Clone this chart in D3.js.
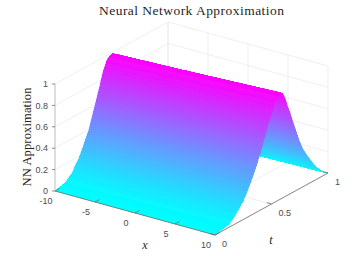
<!DOCTYPE html>
<html>
<head>
<meta charset="utf-8">
<script src="https://cdn.jsdelivr.net/npm/d3@7"></script>
<style>
html, body { margin: 0; padding: 0; background: #fff; overflow: hidden; }
svg { display: block; }
text { font-family: "Liberation Sans", sans-serif; }
.serif { font-family: "Liberation Serif", serif; fill: #262626; }
</style>
</head>
<body>
<div id="chart"></div>
<script>
// tick values
const xTicks = [-10, -5, 0, 5, 10];
const tTicks = [0, 0.5, 1];
const zTicks = [0, 0.2, 0.4, 0.6, 0.8, 1];

// surface read off the picture as height levels, with the t where each
// level is crossed on the x=-10 edge and on the x=10 edge
const zLevels = [0, 0.025, 0.08, 0.17, 0.27, 0.4, 0.52, 0.65, 0.76, 0.87, 0.94, 0.97, 0.99,
    0.97, 0.92, 0.84, 0.76, 0.67, 0.59, 0.51, 0.43, 0.35, 0.28, 0.2, 0.11, 0.05, 0.01, 0];
const tAtLeft = [0, 0.088, 0.148, 0.204, 0.248, 0.30, 0.333, 0.368, 0.398, 0.425, 0.452, 0.469, 0.504,
    0.535, 0.56, 0.585, 0.61, 0.635, 0.655, 0.68, 0.70, 0.73, 0.76, 0.80, 0.85, 0.90, 0.95, 1];
const tAtRight = [0, 0.12, 0.18, 0.25, 0.30, 0.355, 0.398, 0.438, 0.47, 0.51, 0.532, 0.55, 0.585,
    0.60, 0.62, 0.64, 0.664, 0.686, 0.708, 0.73, 0.752, 0.78, 0.81, 0.85, 0.90, 0.945, 0.985, 1];

const width = 364, height = 256;
const bands = 12; // flat colour bands per strip, only for smooth shading

const svg = d3.select('#chart').append('svg')
    .attr('width', width)
    .attr('height', height);
const defs = svg.append('defs');

defs.append('filter').attr('id', 'soft')
    .append('feGaussianBlur').attr('stdDeviation', 0.45);

// each data axis gets a screen x scale and a screen y scale, the picture is a parallel projection
const xToX = d3.scaleLinear().domain([-10, 10]).range([0, 160]);
const xToY = d3.scaleLinear().domain([-10, 10]).range([0, 44]);
const tToX = d3.scaleLinear().domain([0, 1]).range([0, 113]);
const tToY = d3.scaleLinear().domain([0, 1]).range([0, -62]);
const zToY = d3.scaleLinear().domain([0, 1]).range([0, -107]);
const color = d3.scaleLinear().domain([0, 1]).range(['#00ffff', '#ff00ff']);

function project(x, t, z) {
    return [55 + xToX(x) + tToX(t), 191 + xToY(x) + tToY(t) + zToY(z)];
}

const line = d3.line();
const grid = svg.append('g').attr('fill', 'none').attr('stroke', '#ebebeb').attr('stroke-width', 0.8);
const [x0, x1] = xToX.domain();

function gridLine(a, b) {
    grid.append('path').attr('d', line([project(...a), project(...b)]));
}

xTicks.forEach(x => {
    gridLine([x, 0, 0], [x, 1, 0]);
    gridLine([x, 1, 0], [x, 1, 1]);
});
tTicks.forEach(t => {
    gridLine([x0, t, 0], [x1, t, 0]);
    gridLine([x0, t, 0], [x0, t, 1]);
});
zTicks.forEach(z => {
    gridLine([x0, 0, z], [x0, 1, z]);
    gridLine([x0, 1, z], [x1, 1, z]);
});

// surface, painted from the far side of the ridge to the near edge
// crisp edges so the bands do not let the far side show through, the blur softens the outline
const surface = svg.append('g')
    .attr('filter', 'url(#soft)')
    .attr('shape-rendering', 'crispEdges');

function between(p, q, f) {
    return [p[0] + (q[0] - p[0]) * f, p[1] + (q[1] - p[1]) * f];
}

function strip(i) {
    const a = project(x0, tAtLeft[i], zLevels[i]);
    const b = project(x1, tAtRight[i], zLevels[i]);
    const c = project(x1, tAtRight[i + 1], zLevels[i + 1]);
    const d = project(x0, tAtLeft[i + 1], zLevels[i + 1]);
    const zAt = d3.interpolateNumber(zLevels[i], zLevels[i + 1]);

    d3.range(bands - 1, -1, -1).forEach(s => {
        const f0 = s / bands, f1 = (s + 1) / bands;
        const fill = color(zAt((f0 + f1) / 2));
        surface.append('path')
            .attr('d', line([between(a, d, f0), between(b, c, f0), between(b, c, f1), between(a, d, f1)]) + 'Z')
            .attr('fill', fill)
            .attr('stroke', fill)
            .attr('stroke-width', 0.4);
    });
}

d3.range(zLevels.length - 2, -1, -1).forEach(strip);

// axes
const axes = svg.append('g').attr('fill', 'none').attr('stroke', '#6e6e6e').attr('stroke-width', 0.8);
axes.append('path').attr('d', line([project(x0, 0, 0), project(x1, 0, 0)]));
axes.append('path').attr('d', line([project(x1, 0, 0), project(x1, 1, 0)]));
axes.append('path').attr('stroke', '#c4c4c4').attr('stroke-width', 1).attr('d', line([project(x0, 0, 0), project(x0, 0, 1)]));

xTicks.forEach(x => {
    axes.append('path').attr('d', line([project(x, 0, 0), project(x, 0.04, 0)]));
    const p = project(x, 0, 0);
    tickLabel(x, p[0] - 9, p[1] + 10, 'middle');
});
tTicks.forEach(t => {
    axes.append('path').attr('d', line([project(x1, t, 0), project(x1 - 0.6, t, 0)]));
    const p = project(x1, t, 0);
    tickLabel(t, p[0] + 7, p[1] + 8.5, 'start');
});
zTicks.forEach(z => {
    const p = project(x0, 0, z);
    axes.append('path').attr('d', line([p, [p[0] - 3, p[1]]]));
    tickLabel(z, p[0] - 7, p[1], 'end');
});

function tickLabel(value, x, y, anchor) {
    svg.append('text')
        .attr('x', x)
        .attr('y', y)
        .attr('dy', '0.35em')
        .attr('text-anchor', anchor)
        .attr('font-size', 9)
        .attr('fill', '#4d4d4d')
        .text(value);
}

// titles and axis names
svg.append('text')
    .attr('class', 'serif')
    .attr('x', 191.5)
    .attr('y', 15)
    .attr('text-anchor', 'middle')
    .attr('font-size', 13.5)
    .attr('textLength', 185)
    .text('Neural Network Approximation');

svg.append('text')
    .attr('class', 'serif')
    .attr('transform', 'translate(31,137) rotate(-90)')
    .attr('text-anchor', 'middle')
    .attr('font-size', 12.5)
    .attr('textLength', 99)
    .text('NN Approximation');

svg.append('text')
    .attr('class', 'serif')
    .attr('x', 145)
    .attr('y', 249)
    .attr('text-anchor', 'middle')
    .attr('font-size', 12)
    .attr('font-style', 'italic')
    .text('x');

svg.append('text')
    .attr('class', 'serif')
    .attr('x', 271)
    .attr('y', 244)
    .attr('text-anchor', 'middle')
    .attr('font-size', 12)
    .attr('font-style', 'italic')
    .text('t');
</script>
</body>
</html>
